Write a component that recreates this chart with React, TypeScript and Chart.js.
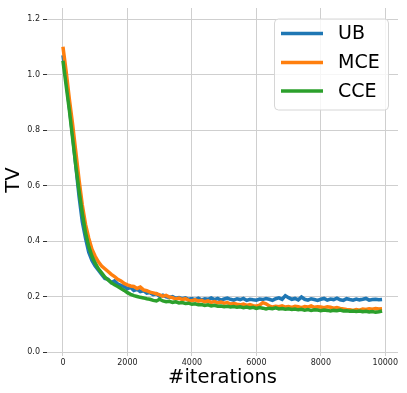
import React, { useEffect, useRef } from "react";
import { Chart, registerables } from "chart.js";

Chart.register(...registerables);

const iterations: number[] = Array.from({ length: 100 }, (_, i) => i * 100);

const ub: number[] = [
  1.07, 0.98, 0.88, 0.78, 0.67, 0.56, 0.47, 0.41, 0.36, 0.33,
  0.31, 0.295, 0.28, 0.265, 0.262, 0.25, 0.256, 0.245, 0.24, 0.236,
  0.228, 0.233, 0.222, 0.226, 0.218, 0.221, 0.212, 0.214, 0.207, 0.21,
  0.2, 0.205, 0.199, 0.197, 0.2, 0.194, 0.196, 0.192, 0.195, 0.19,
  0.193, 0.189, 0.194, 0.188, 0.192, 0.19, 0.195, 0.189, 0.193, 0.187,
  0.191, 0.194, 0.19, 0.187, 0.192, 0.189, 0.193, 0.186, 0.19, 0.188,
  0.187, 0.191, 0.189, 0.193, 0.19, 0.186, 0.192, 0.195, 0.19, 0.203,
  0.196, 0.19, 0.193, 0.188, 0.198, 0.19, 0.187, 0.192, 0.189, 0.186,
  0.19, 0.193, 0.187, 0.191, 0.189, 0.194, 0.188, 0.186, 0.192, 0.189,
  0.187, 0.191, 0.188, 0.19, 0.193, 0.187, 0.189, 0.19, 0.188, 0.189,
];

const mce: number[] = [
  1.1, 1.01, 0.91, 0.82, 0.72, 0.62, 0.53, 0.46, 0.41, 0.37,
  0.345, 0.325, 0.31, 0.3, 0.29, 0.28, 0.272, 0.262, 0.256, 0.247,
  0.242, 0.238, 0.236, 0.229, 0.234, 0.224, 0.221, 0.216, 0.213, 0.21,
  0.206, 0.201, 0.204, 0.198, 0.196, 0.191, 0.194, 0.189, 0.192, 0.186,
  0.185, 0.188, 0.183, 0.186, 0.181, 0.184, 0.179, 0.182, 0.177, 0.18,
  0.176, 0.178, 0.173, 0.175, 0.172, 0.17, 0.173, 0.168, 0.171, 0.167,
  0.165, 0.169, 0.178, 0.174, 0.166, 0.162, 0.165, 0.163, 0.166, 0.162,
  0.164, 0.161, 0.165, 0.163, 0.16, 0.164, 0.162, 0.166, 0.161, 0.163,
  0.162, 0.16, 0.163, 0.161, 0.158, 0.16, 0.157, 0.155, 0.153, 0.152,
  0.15, 0.153, 0.151, 0.155, 0.153, 0.156, 0.154, 0.157, 0.155, 0.156,
];

const cce: number[] = [
  1.05, 0.96, 0.87, 0.77, 0.67, 0.58, 0.5, 0.43, 0.38, 0.345,
  0.32, 0.3, 0.285, 0.27, 0.26, 0.25, 0.242, 0.236, 0.229, 0.222,
  0.214, 0.208, 0.203, 0.2, 0.197, 0.195, 0.192, 0.19, 0.186, 0.184,
  0.19, 0.184, 0.181, 0.183, 0.179, 0.181, 0.177, 0.178, 0.175, 0.176,
  0.172, 0.174, 0.17, 0.171, 0.168, 0.17, 0.166, 0.168, 0.165, 0.166,
  0.163, 0.165, 0.162, 0.164, 0.161, 0.163, 0.16, 0.162, 0.159, 0.161,
  0.157, 0.16, 0.158, 0.155, 0.158, 0.156, 0.159, 0.155, 0.157, 0.154,
  0.156, 0.153, 0.155, 0.152, 0.154, 0.151, 0.153, 0.15, 0.152, 0.151,
  0.149, 0.151, 0.15, 0.148, 0.15, 0.149, 0.151, 0.148, 0.149, 0.147,
  0.148, 0.146, 0.148, 0.145, 0.147, 0.144, 0.146, 0.143, 0.145, 0.148,
];

const seriesNames: string[] = ["UB", "MCE", "CCE"];
const seriesColors: string[] = ["#1f77b4", "#ff7f0e", "#2ca02c"];
const xTicks: number[] = [0, 2000, 4000, 6000, 8000, 10000];
const yTicks: number[] = [0, 0.2, 0.4, 0.6, 0.8, 1.0, 1.2];

const FONT = "'DejaVu Sans', sans-serif";

const legendPlugin = {
  id: "insideLegend",
  afterDraw(chart: any) {
    const ctx = chart.ctx as CanvasRenderingContext2D;
    const x0 = 274.5, y0 = 19, w = 114, h = 91, r = 4;
    ctx.save();
    ctx.beginPath();
    ctx.moveTo(x0 + r, y0);
    ctx.lineTo(x0 + w - r, y0);
    ctx.arcTo(x0 + w, y0, x0 + w, y0 + r, r);
    ctx.lineTo(x0 + w, y0 + h - r);
    ctx.arcTo(x0 + w, y0 + h, x0 + w - r, y0 + h, r);
    ctx.lineTo(x0 + r, y0 + h);
    ctx.arcTo(x0, y0 + h, x0, y0 + h - r, r);
    ctx.lineTo(x0, y0 + r);
    ctx.arcTo(x0, y0, x0 + r, y0, r);
    ctx.closePath();
    ctx.fillStyle = "rgba(255,255,255,0.8)";
    ctx.fill();
    ctx.strokeStyle = "#d6d6d6";
    ctx.lineWidth = 1;
    ctx.stroke();
    const rows = [33.5, 62.5, 91];
    seriesNames.forEach((name, i) => {
      const y = rows[i];
      ctx.beginPath();
      ctx.moveTo(281, y);
      ctx.lineTo(323, y);
      ctx.strokeStyle = seriesColors[i];
      ctx.lineWidth = 3.5;
      ctx.stroke();
      ctx.fillStyle = "#000";
      ctx.font = `19px ${FONT}`;
      ctx.textBaseline = "middle";
      ctx.textAlign = "left";
      ctx.fillText(name, 338, y + 1);
    });
    ctx.restore();
  },
};

export default function App() {
  const ref = useRef<HTMLCanvasElement | null>(null);
  useEffect(() => {
    if (!ref.current) return;
    const all = [ub, mce, cce];
    const chart = new Chart(ref.current, {
      type: "line",
      data: {
        datasets: all.map((vals, i) => ({
          label: seriesNames[i],
          data: iterations.map((it, k) => ({ x: it, y: vals[k] })),
          borderColor: seriesColors[i],
          backgroundColor: seriesColors[i],
          borderWidth: 3.5,
          pointRadius: 0,
          tension: 0,
          order: 2 - i,
        })),
      },
      options: {
        responsive: false,
        animation: false,
        layout: { padding: { left: 0, top: 8, right: 9, bottom: 0 } },
        plugins: { legend: { display: false }, tooltip: { enabled: false } },
        scales: {
          x: {
            type: "linear",
            min: -495,
            max: 10395,
            afterBuildTicks: (s: any) => {
              s.ticks = xTicks.map((v) => ({ value: v }));
            },
            afterFit: (s: any) => {
              s.height = 41;
            },
            ticks: {
              font: { family: FONT, size: 8 },
              color: "#222",
              padding: 2,
              maxRotation: 0,
              callback: (v: any) => String(v),
            },
            grid: { color: "#cfcfcf", lineWidth: 1, tickLength: 4, tickColor: "#cfcfcf" },
            border: { display: false },
            title: {
              display: true,
              text: "#iterations",
              font: { family: FONT, size: 19.5 },
              color: "#000",
              padding: { top: 0, bottom: 3 },
            },
          },
          y: {
            type: "linear",
            min: 0,
            max: 1.24,
            afterBuildTicks: (s: any) => {
              s.ticks = yTicks.map((v) => ({ value: v }));
            },
            afterFit: (s: any) => {
              s.width = 47;
            },
            ticks: {
              font: { family: FONT, size: 8 },
              color: "#222",
              padding: 3,
              callback: (v: any) => Number(v).toFixed(1),
            },
            grid: { color: "#cfcfcf", lineWidth: 1, tickLength: 4, tickColor: "#333" },
            border: { display: false },
            title: {
              display: true,
              text: "TV",
              font: { family: FONT, size: 19.5 },
              color: "#000",
              padding: { top: 2, bottom: 0 },
            },
          },
        },
      },
      plugins: [legendPlugin],
    });
    return () => chart.destroy();
  }, []);
  return (
    <div style={{ position: "absolute", left: 0, top: 0, width: 407, height: 393, background: "#fff" }}>
      <canvas ref={ref} width={407} height={393} />
    </div>
  );
}
